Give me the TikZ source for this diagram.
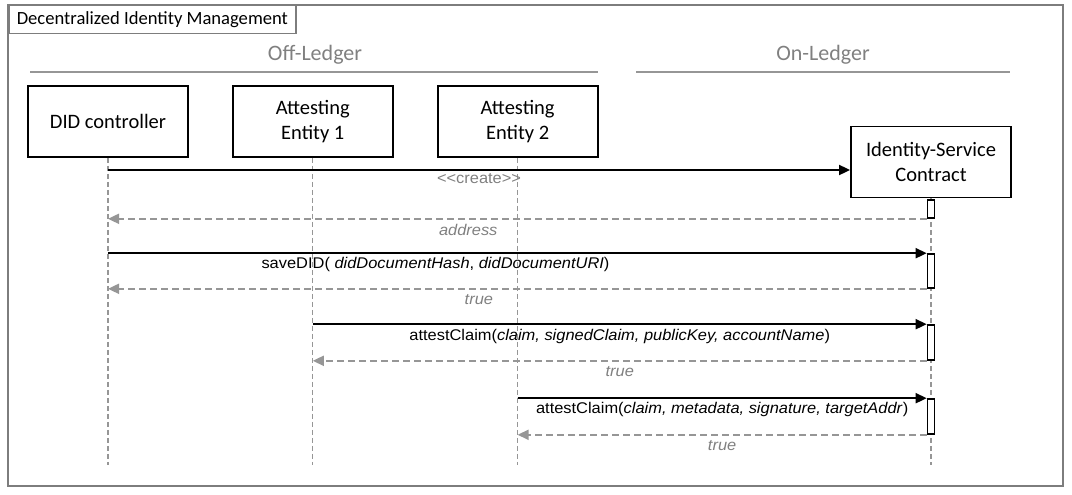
\documentclass[tikz,border=0pt]{standalone}
\usepackage{fontspec}
\setmainfont{Carlito}
\newfontfamily\msgfont[FakeStretch=1.06]{Liberation Sans}
\usetikzlibrary{positioning, arrows.meta}
\definecolor{linegray}{RGB}{150,150,150}
\definecolor{framegray}{RGB}{125,125,125}
\definecolor{labelgray}{RGB}{128,128,128}
\tikzstyle{actor} = [draw, line width=1.8pt, fill=white, minimum width=160pt, minimum height=71pt, align=center, font=\fontsize{20.5}{24.5}\selectfont]
\tikzstyle{lifeline} = [draw=linegray, line width=1.3pt, dash pattern=on 5pt off 3pt]
\tikzstyle{actbar} = [draw, line width=1.6pt, fill=white, minimum width=7pt, inner sep=0pt]
\tikzstyle{msg} = [line width=1.8pt, -{Triangle[length=11pt,width=10pt]}]
\tikzstyle{ret} = [draw=linegray, line width=1.8pt, dash pattern=on 7pt off 4pt, -{Triangle[length=11pt,width=10pt]}]
\tikzstyle{call} = [below, inner sep=4.5pt, font=\msgfont\fontsize{15.5}{18}\selectfont]
\tikzstyle{answer} = [below, inner sep=4.5pt, text=labelgray, font=\msgfont\fontsize{15.5}{18}\selectfont\itshape]
\tikzstyle{ledger} = [text=labelgray, font=\fontsize{22}{26}\selectfont]

\begin{document}
\begin{tikzpicture}[x=1pt, y=-1pt]
  \useasboundingbox (0,0) rectangle (1072,495);

  % Frame and title
  \draw[framegray, line width=1.8pt] (8,5) rectangle (1063,486);
  \node[draw=framegray, line width=1.5pt, anchor=north west, inner xsep=8pt, minimum height=28pt, font=\fontsize{18.6}{22}\selectfont] (title) at (8,5) {Decentralized Identity Management};

  % Ledger headings
  \node[ledger] (off) at (315,55) {Off-Ledger};
  \node[ledger] (on) at (823,55) {On-Ledger};
  \draw[linegray, line width=1.5pt] (30,72) -- (598,72);
  \draw[linegray, line width=1.5pt] (636,72) -- (1010,72);

  % Participants
  \node[actor] (did) at (108,121.5) {DID controller};
  \node[actor, right=43pt of did] (ae1) {Attesting\\Entity 1};
  \node[actor, right=43pt of ae1] (ae2) {Attesting\\Entity 2};
  \node[actor] (isc) at (931,162) {Identity-Service\\Contract};

  % Lifelines
  \coordinate (bottom) at (0,465);
  \foreach \p in {did, ae1, ae2, isc}
    \draw[lifeline] (\p.south) -- (\p |- bottom);

  % Activation bars
  \node[actbar, minimum height=18pt] (b1) at (931,209) {};
  \node[actbar, minimum height=34pt] (b2) at (931,271) {};
  \node[actbar, minimum height=35pt] (b3) at (931,342.5) {};
  \node[actbar, minimum height=35pt] (b4) at (931,416.5) {};

  % Messages
  \draw[msg] (did |- 0,170) -- (isc.west |- 0,170)
    node[call, midway, inner sep=3pt, text=labelgray] {\textless\textless create\textgreater\textgreater};
  \draw[ret] (b1.south west) -- (did |- b1.south west)
    node[answer, pos=0.56] {address};

  \draw[msg] (did |- b2.north west) -- (b2.north west)
    node[call, pos=0.40, inner sep=3pt] {saveDID( \textit{didDocumentHash}, \textit{didDocumentURI})};
  \draw[ret] (b2.south west) -- (did |- b2.south west)
    node[answer, pos=0.547] {true};

  \draw[msg] (ae1 |- b3.north west) -- (b3.north west)
    node[call, midway] {attestClaim(\textit{claim, signedClaim, publicKey, accountName})};
  \draw[ret] (b3.south west) -- (ae1 |- b3.south west)
    node[answer, midway] {true};

  \draw[msg] (ae2 |- b4.north west) -- (b4.north west)
    node[call, midway, inner sep=3.5pt] {attestClaim(\textit{claim, metadata, signature, targetAddr})};
  \draw[ret] (b4.south west) -- (ae2 |- b4.south west)
    node[answer, midway] {true};
\end{tikzpicture}
\end{document}
